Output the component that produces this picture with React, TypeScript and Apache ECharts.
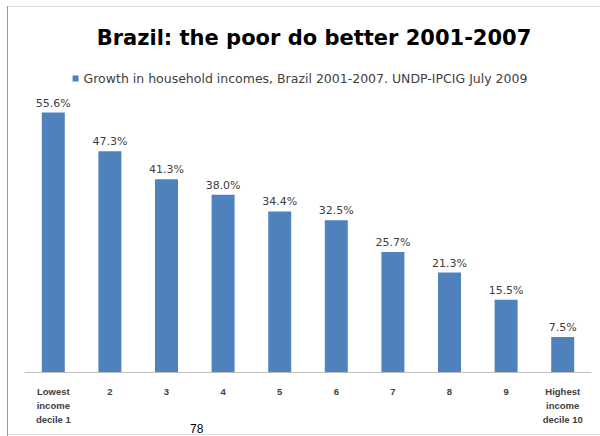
import React, { useEffect, useRef } from "react";
import * as echarts from "echarts";

const categories = ["Lowest\nincome\ndecile 1", "2", "3", "4", "5", "6", "7", "8", "9", "Highest\nincome\ndecile 10"];
const growth = [55.6, 47.3, 41.3, 38.0, 34.4, 32.5, 25.7, 21.3, 15.5, 7.5];
const seriesName = "Growth in household incomes, Brazil 2001-2007. UNDP-IPCIG July 2009";
const titleText = "Brazil: the poor do better 2001-2007";
const pageNumber = "78";

const wideFont = "DejaVu Sans, Verdana, sans-serif";

export default function App() {
  const ref = useRef<HTMLDivElement>(null);
  useEffect(() => {
    if (!ref.current) return;
    const chart = echarts.init(ref.current, null, { renderer: "svg" });
    chart.setOption({
      animation: false,
      backgroundColor: "#ffffff",
      textStyle: { fontFamily: wideFont },
      title: {
        text: titleText,
        left: 309,
        textAlign: "center",
        top: 22,
        textStyle: { fontSize: 21, fontWeight: "bold", color: "#000000", fontFamily: wideFont },
      },
      legend: {
        data: [seriesName],
        left: "center",
        top: 67,
        itemWidth: 6,
        itemHeight: 6,
        icon: "rect",
        itemGap: 4,
        textStyle: { fontSize: 12.5, color: "#404040", fontFamily: wideFont },
      },
      grid: { left: 25, right: 9, top: 92, bottom: 64, containLabel: false },
      xAxis: {
        type: "category",
        data: categories,
        axisLine: { lineStyle: { color: "#bfbfbf", width: 1 } },
        axisTick: { show: false },
        axisLabel: {
          interval: 0,
          margin: 12,
          fontSize: 9.5,
          fontWeight: "bold",
          color: "#404040",
          lineHeight: 14,
          verticalAlign: "top",
          fontFamily: "Liberation Sans, Arial, sans-serif",
        },
      },
      yAxis: { type: "value", min: 0, max: 60, show: false, splitLine: { show: false } },
      series: [
        {
          name: seriesName,
          type: "bar",
          data: growth,
          barWidth: 23,
          itemStyle: { color: "#4f81bd" },
          label: {
            show: true,
            position: "top",
            distance: 4,
            fontSize: 11,
            color: "#404040",
            fontFamily: wideFont,
            formatter: (p: any) => p.value.toFixed(1) + "%",
          },
        },
      ],
      graphic: [
        { type: "line", shape: { x1: 7.5, y1: 6, x2: 7.5, y2: 436 }, style: { stroke: "#999999", lineWidth: 1 } },
        { type: "line", shape: { x1: 8, y1: 6.5, x2: 600, y2: 6.5 }, style: { stroke: "#dddddd", lineWidth: 1 } },
        { type: "line", shape: { x1: 8, y1: 434.5, x2: 600, y2: 434.5 }, style: { stroke: "#dddddd", lineWidth: 1 } },
        {
          type: "text",
          x: 190,
          y: 423,
          style: { text: pageNumber, fontSize: 12, fill: "#000000", fontFamily: "Liberation Sans, Arial, sans-serif" },
        },
      ],
    });
    return () => chart.dispose();
  }, []);
  return <div ref={ref} style={{ width: 600, height: 436, position: "absolute", left: 0, top: 0 }} />;
}
